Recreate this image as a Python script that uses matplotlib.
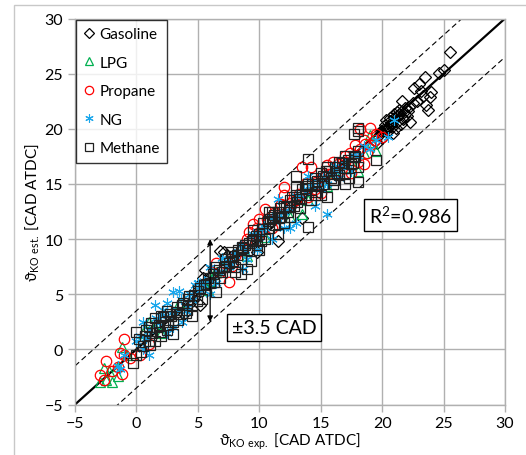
import matplotlib
matplotlib.use("Agg")
import matplotlib.pyplot as plt
from matplotlib.patches import Rectangle

plt.rcParams['font.family'] = ['Lato', 'DejaVu Sans']
plt.rcParams['mathtext.fontset'] = 'custom'
plt.rcParams['mathtext.rm'] = 'Lato'

gasoline_x = [25.5, 25.0, 24.6, 23.5, 23.0, 23.2, 24.0, 23.9, 23.6, 23.7, 22.6, 22.3, 21.6, 21.9,
              22.0, 21.2, 21.0, 20.8, 20.5, 20.3, 20.1, 21.5, 20.9, 21.1, 19.8, 20.0, 19.6, 21.3,
              22.2, 22.8, 23.3, 22.5, 21.7, 20.6, 20.4, 19.9, 21.4, 22.1, 20.7, 19.4,
              20.2, 20.6, 21.0, 21.4, 21.8, 20.4, 20.8, 21.2, 21.6,
              6.8, 7.1, 5.4, 5.0, 4.8, 5.2, 4.3, 3.9, 5.6, 6.0, 7.4, 13.5, 11.5, 12.5, 9.8]
gasoline_y = [27.0, 25.3, 25.1, 24.7, 24.1, 23.4, 23.3, 22.9, 22.2, 21.7, 23.7, 20.6, 22.5, 21.9,
              21.2, 21.5, 21.0, 20.4, 20.2, 20.8, 19.9, 20.4, 19.6, 20.1, 19.5, 19.2, 18.7, 21.2,
              22.0, 22.5, 23.0, 22.3, 20.9, 21.0, 20.0, 19.8, 21.3, 21.6, 20.5, 18.9,
              20.3, 20.7, 21.3, 21.7, 21.5, 19.7, 20.2, 20.6, 21.0,
              8.9, 8.8, 6.5, 5.7, 4.8, 4.0, 4.1, 3.2, 7.2, 6.6, 8.5, 11.9, 9.8, 12.9, 8.8]

lpg_x = [-3.0, -2.5, -2.0, -2.2, -1.5, -1.5, -1.2, -0.8, -2.6, 0.5, 1.0, 1.5, 2.0, 5.8, 6.0,
         6.3, 5.5, 6.5, 7.0, 12.5, 13.5, 14.0, 15.5, 17.0, 17.5, 18.0, 18.5, 19.5, 19.2, 19.0,
         10.5, 9.0, 3.5, 16.2]
lpg_y = [-3.0, -2.8, -3.0, -2.0, -2.4, -1.5, 0.2, -0.5, -1.7, 1.5, 2.5, 2.0, 1.5, 5.4, 6.2,
         6.8, 6.0, 7.0, 7.6, 12.0, 12.3, 13.5, 14.8, 16.5, 17.2, 16.2, 17.8, 18.0, 18.8, 19.4,
         10.2, 8.5, 4.2, 16.0]

propane_x = [-3.0, -2.5, -2.6, -2.0, -1.5, -1.2, -1.0, -1.0, -0.5, -1.3, 0.3, 1.0,
             6.5, 7.5, 7.8, 6.8, 8.0, 9.5, 10.0, 10.5, 11.5, 12.0, 12.0, 13.5, 14.2, 14.5,
             15.0, 15.5, 16.0, 17.0, 17.8, 18.0, 18.5, 19.0, 19.0, 18.2, 19.5, 20.0, 18.8,
             18.5, 17.5, 16.5, 13.0, 12.5, 11.0, 9.0, 10.0, 14.0, 15.0, 8.5, 17.0,
             9.2, 9.8, 10.6, 11.2, 11.8, 12.6, 13.2, 13.8, 14.6, 15.6, 16.4, 17.4, 18.2, 18.6, 19.4]
propane_y = [-2.3, -1.1, -2.8, -2.0, -1.6, -2.2, 0.9, -0.5, -0.8, -0.3, -0.5, 0.5,
             7.8, 6.1, 7.6, 7.0, 8.5, 11.4, 11.8, 12.7, 12.2, 14.7, 14.0, 16.5, 16.5, 14.5,
             15.5, 16.7, 17.0, 17.5, 18.5, 17.0, 19.0, 18.5, 20.1, 20.0, 19.5, 19.3, 17.8,
             16.8, 16.0, 16.2, 13.5, 13.0, 11.0, 10.0, 10.5, 13.8, 14.2, 9.0, 17.0,
             10.6, 11.0, 11.8, 12.4, 13.2, 13.3, 14.1, 15.1, 15.2, 15.9, 16.8, 17.8, 18.2, 18.6, 19.0]

ng_x = [-1.5, -1.3, -1.0, 0.5, 1.0, 0.3, 1.5, 2.5, 3.0, 3.5, 3.7, 4.5, 4.2, 5.0, 5.5, 5.2,
        2.0, 0.5, 3.0, 4.8, 6.0, 6.5, 7.5, 8.5, 9.0, 8.7, 10.0, 9.8, 11.0, 11.5, 12.0, 12.5,
        13.3, 14.0, 14.5, 15.5, 15.0, 16.0, 16.5, 17.5, 18.0, 19.0, 20.5, 21.0, 13.0, 10.5,
        7.0, 12.0, 2.5, 1.0, 4.0, 6.0, 15.5, 17.0, 9.5, 11.0, 0.0, 1.8, 3.3, 5.8, 7.8, 8.2,
        10.2, 11.8, 13.8, 14.8, 16.2, 18.5,
        0.8, 1.6, 2.2, 2.8, 3.6, 4.4, 5.4, 6.6, 7.2, 8.0, 8.8, 9.6, 10.4, 11.2, 12.4, 13.0,
        13.6, 14.2, 15.2, 16.6, 17.6, 19.5]
ng_y = [-1.5, -1.8, -0.5, 0.0, -0.5, 1.2, 4.0, 4.2, 5.2, 5.3, 2.5, 4.5, 3.8, 6.0, 6.2, 5.4,
        3.0, 2.5, 2.0, 5.8, 5.0, 6.0, 7.5, 9.5, 8.2, 7.3, 10.2, 9.0, 12.0, 13.6, 12.5, 11.0,
        14.0, 15.7, 13.0, 12.3, 14.5, 16.0, 15.5, 16.2, 17.5, 18.2, 19.3, 20.8, 11.5, 11.0,
        8.3, 11.0, 1.5, 1.8, 3.5, 7.5, 15.0, 16.8, 10.5, 10.0, 0.8, 2.4, 3.6, 6.4, 8.0, 8.9,
        10.9, 12.0, 14.3, 15.2, 16.6, 18.4,
        1.0, 2.8, 3.6, 3.3, 4.6, 5.0, 5.9, 7.0, 7.8, 8.6, 9.0, 10.4, 11.2, 11.6, 12.8, 13.9,
        14.5, 14.8, 15.6, 16.2, 17.6, 19.0]

methane_x = [-0.3, 0.0, 0.0, 0.5, 0.7, 1.0, 1.0, 1.3, 1.5, 1.5, 1.8, 2.0, 2.0, 2.3, 2.5, 2.7,
             3.0, 3.0, 3.3, 3.5, 3.8, 4.0, 4.3, 4.5, 5.0, 5.3, 5.5, 5.8, 6.0, 6.5, 7.0, 7.2,
             7.5, 7.8, 8.0, 8.3, 8.5, 8.8, 9.0, 9.3, 9.5, 9.5, 9.8, 10.0, 10.0, 10.3, 10.5,
             10.8, 11.0, 11.0, 11.3, 11.5, 11.5, 11.8, 12.0, 12.0, 12.3, 12.5, 12.8, 13.0,
             13.3, 13.5, 13.8, 14.0, 14.2, 14.5, 14.8, 15.0, 15.0, 15.3, 15.5, 15.5, 15.8,
             16.0, 16.3, 16.5, 17.0, 17.0, 17.3, 17.5, 17.8, 18.0, 18.0, 8.0, 6.8, 4.5, 2.5,
             10.8, 12.5, 14.5, 16.5, 17.0,
             0.2, 0.8, 1.2, 1.7, 2.2, 2.8, 3.2, 3.7, 4.2, 4.7, 5.2, 5.7, 6.2, 6.7, 7.3, 7.7,
             8.2, 8.7, 9.2, 9.7, 10.2, 10.7, 11.2, 11.7, 12.2, 12.7, 13.2, 13.7, 14.3, 14.7,
             15.2, 15.7, 16.2, 16.7, 17.2, 17.7,
             0.4, 1.1, 1.9, 2.6, 3.4, 4.1, 4.9, 6.3, 7.1, 7.9, 8.6, 9.4, 10.1, 10.9, 11.6,
             12.4, 13.1, 13.9, 14.6, 15.4, 16.1, 16.9, 17.6,
             18.0, 18.0, 17.7, 14.0, 13.0, 13.0, 14.0, 19.5, 18.0, 6.5, 8.5, 9.0]
methane_y = [-1.2, -0.5, 1.6, 0.3, 1.2, 0.8, 2.0, 1.5, 0.8, 2.8, 2.2, 1.2, 3.0, 2.5, 1.8, 3.2,
             2.5, 1.4, 3.8, 3.2, 4.2, 3.3, 4.8, 4.0, 5.3, 4.6, 5.8, 6.5, 6.0, 7.5, 7.0, 8.2,
             7.8, 8.5, 7.5, 9.0, 8.2, 9.5, 9.0, 8.0, 10.0, 10.8, 9.5, 10.5, 9.0, 11.5, 10.0,
             11.0, 12.0, 12.5, 11.3, 12.5, 10.5, 12.0, 13.0, 11.5, 12.5, 13.5, 13.0, 14.0,
             12.8, 14.5, 14.0, 15.0, 13.5, 15.5, 14.8, 16.0, 14.0, 15.0, 16.5, 13.8, 15.5,
             15.0, 16.0, 17.0, 16.0, 17.5, 15.5, 16.8, 17.5, 16.5, 18.0, 7.0, 6.5, 3.0, 3.5,
             12.5, 12.0, 14.0, 15.8, 15.0,
             0.9, 1.8, 2.4, 2.0, 2.9, 3.0, 3.4, 4.0, 4.6, 4.9, 5.6, 5.9, 6.8, 7.2, 7.6, 8.8,
             8.6, 9.2, 9.6, 10.3, 10.9, 11.6, 12.2, 12.8, 12.9, 13.8, 13.6, 14.6, 15.0, 15.3,
             15.7, 16.2, 16.5, 16.9, 17.2, 17.4,
             -0.2, 0.4, 1.6, 2.2, 2.7, 3.6, 4.4, 6.1, 7.5, 8.0, 9.3, 9.8, 9.8, 11.8, 11.9,
             12.9, 13.4, 14.8, 14.3, 16.2, 15.4, 16.4, 16.9,
             20.1, 19.8, 19.5, 17.3, 15.7, 14.7, 11.1, 17.2, 15.2, 5.2, 6.8, 7.3]

x_ticks = [-5, 0, 5, 10, 15, 20, 25, 30]
y_ticks = [-5, 0, 5, 10, 15, 20, 25, 30]
band = 3.5
r2 = 0.986

fig = plt.figure(figsize=(5.26, 4.56), dpi=100)
# light outer frame like the pasted Excel chart area
fig.patches.append(Rectangle((14 / 526, -0.05), 1.1, 1 - 6 / 456 + 0.05, transform=fig.transFigure,
                             fill=False, edgecolor='#c8c8c8', linewidth=1.0))
ax = fig.add_axes([75 / 526, 1 - 405.5 / 456, 430 / 526, 386 / 456])

ax.set_xlim(-5, 30)
ax.set_ylim(-5, 30)
ax.set_xticks(x_ticks)
ax.set_yticks(y_ticks)
ax.grid(True, color='#b0b0b0', linewidth=1.0)
ax.set_axisbelow(True)
for s in ax.spines.values():
    s.set_color('#b0b0b0')
    s.set_linewidth(1.0)
ax.tick_params(colors='#b0b0b0', labelcolor='black', length=5, width=1.0, labelsize=11.5)

# reference lines
lo, hi = -5, 30
ax.plot([lo, hi], [lo, hi], color='black', linewidth=1.6, zorder=2)
ax.plot([lo, hi], [lo + band, hi + band], color='black', linewidth=0.8,
        linestyle=(0, (5, 3)), zorder=2)
ax.plot([lo, hi], [lo - band, hi - band], color='black', linewidth=0.8,
        linestyle=(0, (5, 3)), zorder=2)

ms = 7.5
ax.plot(gasoline_x, gasoline_y, linestyle='none', marker='D', markersize=ms * 0.85,
        markerfacecolor='none', markeredgecolor='black', markeredgewidth=0.9, label='Gasoline', zorder=3)
ax.plot(lpg_x, lpg_y, linestyle='none', marker='^', markersize=ms,
        markerfacecolor='none', markeredgecolor='#00b050', markeredgewidth=0.9, label='LPG', zorder=3)
ax.plot(propane_x, propane_y, linestyle='none', marker='o', markersize=ms,
        markerfacecolor='none', markeredgecolor='#ff0000', markeredgewidth=0.9, label='Propane', zorder=3)
ax.plot(ng_x, ng_y, linestyle='none', marker=(6, 2, 0), markersize=ms,
        markerfacecolor='none', markeredgecolor='#1aa7ec', markeredgewidth=0.8, label='NG', zorder=3)
ax.plot(methane_x, methane_y, linestyle='none', marker='s', markersize=ms,
        markerfacecolor='none', markeredgecolor='#202020', markeredgewidth=0.9, label='Methane', zorder=3)

# +/- band arrow
ax.annotate('', xy=(6, 10), xytext=(6, 2.5),
            arrowprops=dict(arrowstyle='<|-|>', color='black', linewidth=0.9,
                            mutation_scale=8, shrinkA=0, shrinkB=0), zorder=4)

box = dict(boxstyle='square,pad=0.25', facecolor='white', edgecolor='black', linewidth=1.0)
ax.text(22.3, 12.2, 'R$^2$=%.3f' % r2, fontsize=14, ha='center', va='center', bbox=box, zorder=5)
ax.text(11.2, 2.0, '±3.5 CAD', fontsize=14, ha='center', va='center', bbox=box, zorder=5)

leg = ax.legend(loc='upper left', bbox_to_anchor=(0.003, 0.997), fontsize=11, frameon=True,
                fancybox=False, edgecolor='black', labelspacing=0.95, handlelength=0.7,
                handletextpad=0.3, borderpad=0.5, markerscale=0.8, borderaxespad=0)
leg.get_frame().set_linewidth(1.0)
leg.set_zorder(6)

ax.set_xlabel('ϑ$_{\\mathrm{KO\\ exp.}}$ [CAD ATDC]', fontsize=11, labelpad=0)
ax.set_ylabel('ϑ$_{\\mathrm{KO\\ est.}}$ [CAD ATDC]', fontsize=11, labelpad=2)

fig.savefig('out.png', dpi=100)
